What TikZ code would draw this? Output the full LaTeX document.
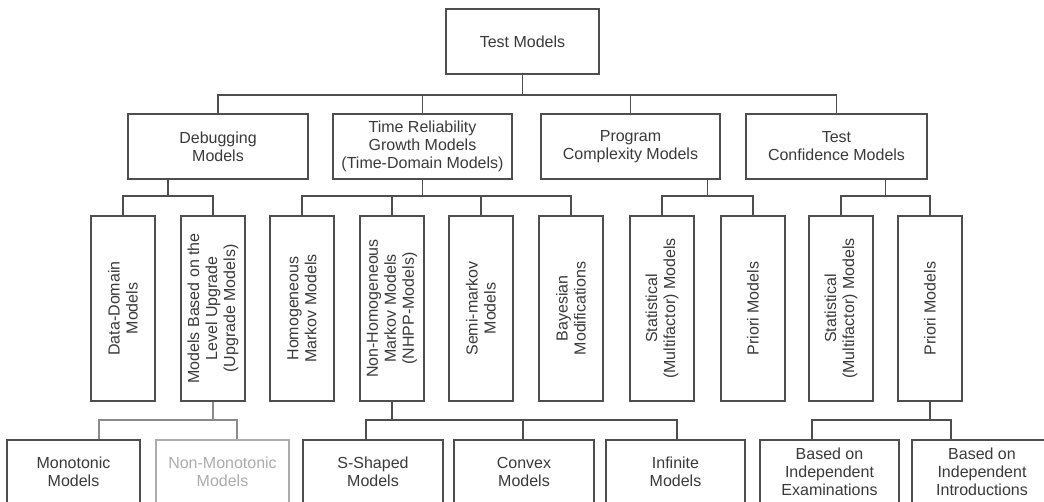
\documentclass[tikz,border=0pt]{standalone}
\usepackage{fontspec}
\setmainfont{Liberation Sans}
\usetikzlibrary{calc}

\definecolor{ink}{HTML}{3A3A3A}
\definecolor{frame}{HTML}{4E4E4E}
\definecolor{faint}{HTML}{ACACAC}
\definecolor{wire}{HTML}{8A8A8A}

\tikzset{
  box/.style={draw=frame, line width=1.6pt, text=ink, align=center, inner sep=0pt,
    font=\fontsize{16}{18}\selectfont},
  flatbox/.style={box, minimum height=65pt},
  tallbox/.style={box, rotate=90, minimum width=185pt, minimum height=64pt},
  leafbox/.style={box, minimum height=64pt},
  fadedbox/.style={leafbox, draw=faint, text=faint},
  link/.style={draw=frame, line width=1.6pt},
  fadedlink/.style={draw=wire, line width=1.6pt},
}

\begin{document}
\begin{tikzpicture}[x=1pt, y=-1pt]
  \useasboundingbox (0,0) rectangle (1044,502);
  \fill[white] (0,0) rectangle (1044,502);
  \clip (0,0) rectangle (1044,502);

  % bus levels
  \coordinate (r1) at (0,95);
  \coordinate (r2) at (0,196);
  \coordinate (r3) at (0,420);

  % root
  \node[flatbox, minimum width=153pt] (tm) at (522.5,41.5) {Test Models};

  % second level
  \node[flatbox, minimum width=180pt] (deb) at (218,146.5) {Debugging\\Models};
  \node[flatbox, minimum width=179pt] (trg) at (422.5,146.5) {Time Reliability\\Growth Models\\(Time-Domain Models)};
  \node[flatbox, minimum width=179pt] (pcm) at (630.5,146.5) {Program\\Complexity Models};
  \node[flatbox, minimum width=181pt] (tcm) at (836.5,146.5) {Test\\Confidence Models};

  % third level (rotated text)
  \node[tallbox] (dd)  at (123,308.5) {Data-Domain\\Models};
  \node[tallbox] (mb)  at (213,308.5) {Models Based on the\\Level Upgrade\\(Upgrade Models)};
  \node[tallbox] (hm)  at (302,308.5) {Homogeneous\\Markov Models};
  \node[tallbox] (nh)  at (392,308.5) {Non-Homogeneous\\Markov Models\\(NHPP-Models)};
  \node[tallbox] (sm)  at (481,308.5) {Semi-markov\\Models};
  \node[tallbox] (bay) at (571,308.5) {Bayesian\\Modifications};
  \node[tallbox] (ps)  at (662,308.5) {Statistical\\(Multifactor) Models};
  \node[tallbox] (pp)  at (753,308.5) {Priori Models};
  \node[tallbox] (cs)  at (841,308.5) {Statistical\\(Multifactor) Models};
  \node[tallbox] (cp)  at (930,308.5) {Priori Models};

  % fourth level
  \node[leafbox, minimum width=133pt] (mono)  at (73.5,472) {Monotonic\\Models};
  \node[fadedbox, minimum width=133pt] (nmono) at (222.5,472) {Non-Monotonic\\Models};
  \node[leafbox, minimum width=140pt] (ss)    at (373,472) {S-Shaped\\Models};
  \node[leafbox, minimum width=140pt] (cvx)   at (524,472) {Convex\\Models};
  \node[leafbox, minimum width=139pt] (inf)   at (675.5,472) {Infinite\\Models};
  \node[leafbox, minimum width=139pt] (exa)   at (829.5,472) {Based on\\Independent\\Examinations};
  \node[leafbox, minimum width=140pt] (intro) at (982,472) {Based on\\Independent\\Introductions};

  % root to second level
  \draw[link] (tm.south) -- (tm.south |- r1);
  \draw[link] (deb.north) |- (tcm.north |- r1) -- (tcm.north);
  \draw[link] (trg.north) -- (trg.north |- r1);
  \draw[link] (pcm.north) -- (pcm.north |- r1);

  % debugging models
  \coordinate (jd) at ($(dd.east)!0.5!(mb.east)$);
  \draw[link] (deb.south -| jd) -- (jd |- r2);
  \draw[link] (dd.east) |- (mb.east |- r2) -- (mb.east);

  % time reliability growth models
  \draw[link] (trg.south) -- (trg.south |- r2);
  \draw[link] (hm.east) |- (bay.east |- r2) -- (bay.east);
  \draw[link] (nh.east) -- (nh.east |- r2);
  \draw[link] (sm.east) -- (sm.east |- r2);

  % program complexity models
  \coordinate (jp) at ($(ps.east)!0.5!(pp.east)$);
  \draw[link] (pcm.south -| jp) -- (jp |- r2);
  \draw[link] (ps.east) |- (pp.east |- r2) -- (pp.east);

  % test confidence models
  \coordinate (jc) at ($(cs.east)!0.5!(cp.east)$);
  \draw[link] (tcm.south -| jc) -- (jc |- r2);
  \draw[link] (cs.east) |- (cp.east |- r2) -- (cp.east);

  % upgrade models
  \draw[fadedlink] (mb.west) -- (mb.west |- r3);
  \draw[fadedlink] ([xshift=25.5pt]mono.north) |- ([xshift=14.5pt]nmono.north |- r3) -- ([xshift=14.5pt]nmono.north);

  % NHPP models
  \draw[link] (nh.west) -- (nh.west |- r3);
  \draw[link] ([xshift=-7pt]ss.north) |- ([xshift=1.5pt]inf.north |- r3) -- ([xshift=1.5pt]inf.north);
  \draw[link] ([xshift=-1pt]cvx.north) -- ([xshift=-1pt]cvx.north |- r3);

  % priori test confidence models
  \draw[link] (cp.west) -- (cp.west |- r3);
  \draw[link] ([xshift=-17.5pt]exa.north) |- ([xshift=-31pt]intro.north |- r3) -- ([xshift=-31pt]intro.north);
\end{tikzpicture}
\end{document}
